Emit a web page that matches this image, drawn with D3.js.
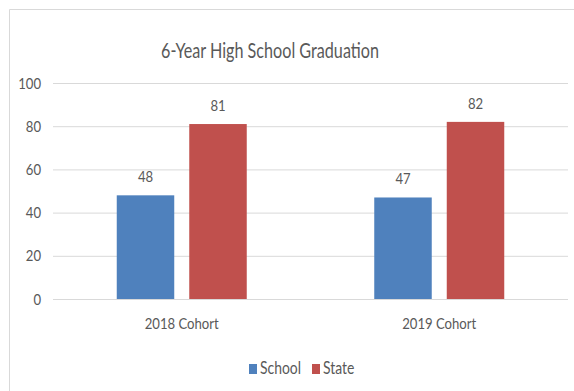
<!DOCTYPE html>
<html>
<head>
<meta charset="utf-8">
<script src="https://cdn.jsdelivr.net/npm/d3@7"></script>
<style>
  html, body { margin: 0; padding: 0; background: #fff; }
  svg { display: block; }
  text { font-family: Lato, "Open Sans", sans-serif; fill: #595959; }
</style>
</head>
<body>
<script>
const categories = ["2018 Cohort", "2019 Cohort"];
const seriesNames = ["School", "State"];
const schoolValues = [48, 47];
const stateValues = [81, 82];
const yTicks = [0, 20, 40, 60, 80, 100];
const colors = ["#4F81BD", "#C0504D"];
const title = "6-Year High School Graduation";

const W = 574, H = 391;
const svg = d3.select("body").append("svg").attr("width", W).attr("height", H);

// narrow the glyphs horizontally around their own x anchor
function squeeze(sel, s) {
  sel.each(function () {
    const t = d3.select(this);
    const x = +t.attr("x") || 0;
    t.attr("transform", `translate(${x},0) scale(${s},1) translate(${-x},0)`);
  });
}

// outer chart border
svg.append("path")
  .attr("d", `M9.5,${H} V9.5 H${W}`)
  .attr("fill", "none").attr("stroke", "#d9d9d9").attr("stroke-width", 1);

const plotL = 53, plotR = 568, plotT = 83, plotB = 299;
const SQ = 0.82;

const x0 = d3.scaleBand().domain(categories).range([plotL, plotR]).padding(0);
const groupFrac = 130 / 257.5;
const x1 = d3.scaleBand().domain(seriesNames)
  .range([x0.bandwidth() * (1 - groupFrac) / 2, x0.bandwidth() * (1 + groupFrac) / 2])
  .paddingInner(0.207).paddingOuter(0);
const y = d3.scaleLinear().domain([0, 100]).range([plotB, plotT]);

// gridlines + y labels
const yAxis = d3.axisLeft(y).tickValues(yTicks).tickSize(-(plotR - plotL)).tickPadding(12);
const gy = svg.append("g").attr("transform", `translate(${plotL},0)`).call(yAxis);
gy.select(".domain").remove();
gy.selectAll(".tick line").attr("stroke", "#d9d9d9");
gy.selectAll(".tick text").style("font-size", "16px").style("font-family", "Lato, sans-serif").attr("fill", "#595959")
  .call(squeeze, SQ);

// x axis
const xAxis = d3.axisBottom(x0).tickSize(0).tickPadding(19);
const gx = svg.append("g").attr("transform", `translate(0,${plotB})`).call(xAxis);
gx.select(".domain").remove();
gx.selectAll(".tick text").style("font-size", "16px").style("font-family", "Lato, sans-serif").attr("fill", "#595959")
  .call(squeeze, SQ);

const data = categories.map((c, i) => ({
  cat: c,
  vals: [{ s: seriesNames[0], v: schoolValues[i] }, { s: seriesNames[1], v: stateValues[i] }]
}));

const groups = svg.append("g").selectAll("g").data(data).join("g")
  .attr("transform", d => `translate(${x0(d.cat)},0)`);

groups.selectAll("rect").data(d => d.vals).join("rect")
  .attr("x", d => x1(d.s))
  .attr("y", d => y(d.v))
  .attr("width", x1.bandwidth())
  .attr("height", d => y(0) - y(d.v))
  .attr("fill", (d, i) => colors[i]);

groups.selectAll("text.lbl").data(d => d.vals).join("text")
  .attr("class", "lbl")
  .attr("x", d => x1(d.s) + x1.bandwidth() / 2)
  .attr("y", d => y(d.v) - 13)
  .attr("text-anchor", "middle")
  .style("font-size", "16px")
  .text(d => d.v)
  .call(squeeze, SQ);

// title
svg.append("text")
  .attr("x", 270).attr("y", 58)
  .attr("text-anchor", "middle")
  .style("font-size", "21px")
  .attr("fill", "#404040")
  .text(title)
  .call(squeeze, 0.77);

// legend
const legend = svg.append("g").attr("transform", "translate(249,363)");
const legX = [0, 63];
seriesNames.forEach((s, i) => {
  const g = legend.append("g").attr("transform", `translate(${legX[i]},0)`);
  g.append("rect").attr("width", 8).attr("height", 10).attr("y", 1).attr("fill", colors[i]);
  g.append("text").attr("x", 11).attr("y", 11).style("font-size", "17px").text(s).call(squeeze, SQ);
});
</script>
</body>
</html>
